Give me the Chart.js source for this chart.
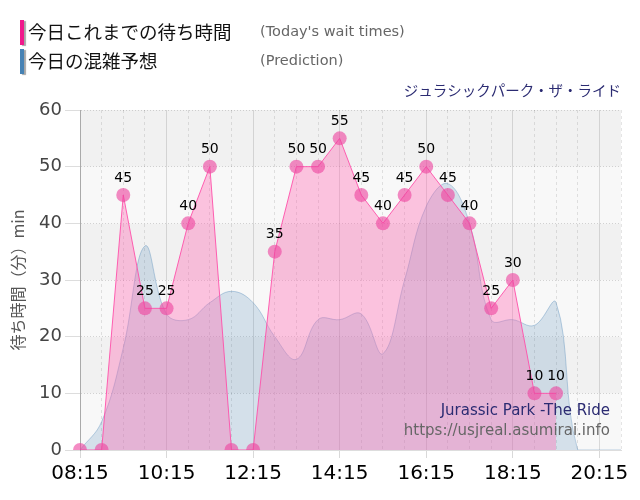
<!DOCTYPE html>
<html>
<head>
<meta charset="utf-8">
<script src="https://cdn.jsdelivr.net/npm/chart.js@4/dist/chart.umd.min.js"></script>
<style>
  html, body { margin: 0; padding: 0; background: #fff; }
  #wrap { width: 640px; height: 500px; position: relative; }
</style>
</head>
<body>
<div id="wrap"><canvas id="waitChart"></canvas></div>
<script>
// time slots, every 30 min
const timeLabels = ["08:15","08:45","09:15","09:45","10:15","10:45","11:15","11:45","12:15","12:45",
  "13:15","13:45","14:15","14:45","15:15","15:45","16:15","16:45","17:15","17:45",
  "18:15","18:45","19:15","19:45","20:15","20:45"];
// today's actual wait times (min)
const waitTimes = [0, 0, 45, 25, 25, 40, 50, 0, 0, 35, 50, 50, 55, 45, 40, 45, 50, 45, 40, 25, 30, 10, 10, null, null, null];
// prediction (min)
const predicted = [0, 5, 18, 36, 24, 23, 26, 28, 26, 20, 16, 23, 23, 24, 17, 30, 43, 47, 40, 23, 23, 22, 26, 0, 0, 0];
const yTicks = [0, 10, 20, 30, 40, 50, 60];

const legendItems = [
    { jp: "今日これまでの待ち時間", en: "(Today's wait times)", color: "#f0198c", y: 32 },
    { jp: "今日の混雑予想", en: "(Prediction)", color: "#4682b4", y: 61 }
];

const bandsPlugin = {
    id: "bands",
    beforeDraw(chart) {
        const {ctx, chartArea: a, scales: {y}} = chart;
        ctx.save();
        for (let i = 0; i < yTicks.length - 1; i++) {
            const top = y.getPixelForValue(yTicks[i+1]), bot = y.getPixelForValue(yTicks[i]);
            ctx.fillStyle = (i % 2 === 1) ? "#f1f1f1" : "#f8f8f8";
            ctx.fillRect(a.left, top, a.right - a.left, bot - top);
        }
        ctx.restore();
    }
};

const labelsPlugin = {
    id: "pointLabels",
    afterDatasetsDraw(chart) {
        const ctx = chart.ctx;
        const meta = chart.getDatasetMeta(0);
        ctx.save();
        ctx.font = "14px 'DejaVu Sans'"; ctx.fillStyle = "#000";
        ctx.textAlign = "center"; ctx.textBaseline = "middle";
        meta.data.forEach((pt, i) => {
            const v = waitTimes[i];
            if (v === null || v === 0) return;
            ctx.fillText(String(v), pt.x, pt.y - 17);
        });
        ctx.restore();
    },
    afterDraw(chart) {
        const ctx = chart.ctx;
        ctx.save();
        legendItems.forEach(it => {
            ctx.shadowColor = "rgba(0,0,0,0.35)"; ctx.shadowOffsetX = 2; ctx.shadowOffsetY = 1; ctx.shadowBlur = 1;
            ctx.fillStyle = it.color; ctx.fillRect(20, it.y - 12, 4, 25);
            ctx.shadowColor = "transparent";
            ctx.textBaseline = "middle"; ctx.textAlign = "left";
            ctx.fillStyle = "#111"; ctx.font = "18.5px 'Noto Sans CJK JP'";
            ctx.fillText(it.jp, 28, it.y);
            ctx.fillStyle = "#666"; ctx.font = "14.5px 'DejaVu Sans'";
            ctx.fillText(it.en, 260, it.y);
        });
        ctx.textAlign = "right";
        ctx.fillStyle = "#2b2b72"; ctx.font = "14.5px 'Noto Sans CJK JP'";
        ctx.fillText("ジュラシックパーク・ザ・ライド", 621, 90);
        ctx.font = "15px 'DejaVu Sans'";
        ctx.fillText("Jurassic Park -The Ride", 610, 411);
        ctx.fillStyle = "#666";
        ctx.fillText("https://usjreal.asumirai.info", 610, 431);
        ctx.restore();
    }
};

new Chart(document.getElementById("waitChart"), {
    type: "line",
    data: {
        labels: timeLabels,
        datasets: [
            { label: "今日これまでの待ち時間", data: waitTimes, borderColor: "rgba(255,80,170,0.9)", borderWidth: 1,
              backgroundColor: "rgba(255,105,180,0.38)", fill: "origin", tension: 0,
              pointRadius: 7, pointBackgroundColor: "rgba(238,70,160,0.62)", pointBorderWidth: 0 },
            { label: "今日の混雑予想", data: predicted, borderColor: "rgba(70,130,180,0.35)", borderWidth: 1,
              backgroundColor: "rgba(70,130,180,0.2)", fill: "origin", tension: 0.4, pointRadius: 0 }
        ]
    },
    options: {
        responsive: true, maintainAspectRatio: false, animation: false,
        layout: { padding: { top: 110, right: 19, bottom: 0, left: 0 } },
        plugins: { legend: { display: false }, tooltip: { enabled: false } },
        scales: {
            x: {
                offset: false,
                afterFit: s => { s.height = 50; },
                grid: {
                    color: c => c.index % 4 === 0 ? "rgba(0,0,0,0.12)" : "rgba(0,0,0,0.1)",
                    tickColor: c => c.index % 4 === 0 ? "rgba(0,0,0,0.15)" : "rgba(0,0,0,0)",
                    tickLength: 8
                },
                border: { color: "#ddd", dash: c => c.index % 4 === 0 ? [] : [3, 3] },
                ticks: {
                    autoSkip: false, maxRotation: 0, padding: 4, color: "#000",
                    font: { family: "'DejaVu Sans'", size: 20 },
                    callback: (v, i) => i % 4 === 0 ? timeLabels[i] : ""
                }
            },
            y: {
                min: 0, max: 60,
                afterFit: s => { s.width = 80; },
                grid: { color: "rgba(0,0,0,0.15)", tickColor: "#ddd", tickLength: 15 },
                border: { color: "#aaa", dash: c => c.type === "tick" ? [1, 2] : [] },
                ticks: { stepSize: 10, padding: 3, color: "#444", font: { family: "'DejaVu Sans'", size: 18 } },
                title: { display: true, text: "待ち時間（分）min", color: "#555", padding: { top: 8, bottom: 0 },
                         font: { family: "'Noto Sans CJK JP'", size: 16 } }
            }
        }
    },
    plugins: [bandsPlugin, labelsPlugin]
});
</script>
</body>
</html>
